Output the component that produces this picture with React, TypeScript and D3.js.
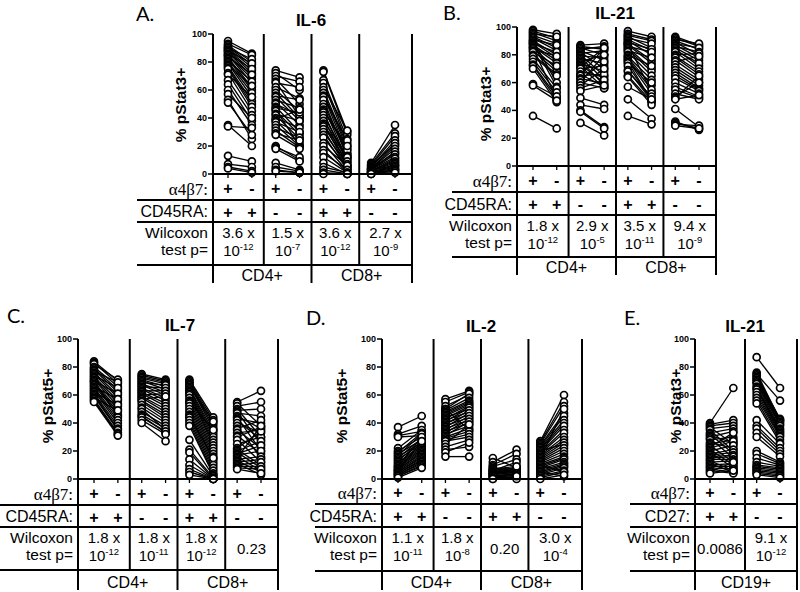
import React from 'react';
import * as d3 from 'd3';

type Pair = [number, number];

// ---------- Panel A: IL-6, % pStat3+ ----------
const A_CD4_RApos: Pair[] = [[95,86],[93,85],[92,80],[91,78],[90,82],[90,76],[89,74],[88,79],[88,72],[87,70],[86,75],[85,68],[85,65],[84,71],[83,62],[82,60],[81,66],[80,58],[79,55],[78,63],[77,52],[76,50],[75,48],[72,45],[71,55],[67,42],[64,38],[60,35],[57,40],[53,25],[51,28],[35,20],[34,33],[13,9],[7,5],[5,2],[4,1]];
const A_CD4_RAneg: Pair[] = [[74,69],[72,60],[70,66],[68,50],[66,41],[65,62],[62,54],[60,45],[58,40],[56,53],[55,38],[53,47],[51,35],[50,42],[48,30],[47,44],[46,20],[45,28],[43,38],[42,25],[40,33],[39,46],[38,22],[37,30],[35,20],[33,26],[31,19],[29,24],[28,18],[20,10],[19,12],[18,9],[8,3],[5,2],[3,1],[2,1]];
const A_CD8_RApos: Pair[] = [[74,30],[73,28],[67,25],[65,22],[62,31],[60,20],[58,18],[56,15],[55,24],[53,12],[50,14],[48,10],[46,17],[45,20],[44,8],[42,11],[40,6],[38,13],[36,5],[35,12],[34,9],[32,4],[30,7],[28,3],[26,5],[22,2],[20,6],[17,1],[15,3],[12,1],[8,0],[5,1],[3,0],[1,0],[0,0]];
const A_CD8_RAneg: Pair[] = [[8,35],[7,29],[6,27],[6,21],[5,24],[5,22],[4,20],[4,18],[4,15],[3,16],[3,14],[3,12],[3,6],[2,10],[2,11],[2,9],[2,8],[1,7],[1,6],[1,5],[1,4],[1,3],[0,3],[0,2],[0,1]];

// ---------- Panel B: IL-21 (T cells), % pStat3+ ----------
const B_CD4_RApos: Pair[] = [[98,95],[97,92],[96,90],[95,93],[94,88],[93,85],[92,83],[91,87],[90,80],[90,60],[89,78],[88,82],[88,57],[87,76],[86,74],[85,70],[85,48],[84,79],[83,68],[82,72],[80,66],[79,65],[77,56],[75,53],[73,50],[72,48],[70,46],[59,50],[58,47],[36,27]];
const B_CD4_RAneg: Pair[] = [[87,88],[86,84],[85,80],[84,86],[83,76],[82,70],[81,83],[80,65],[79,78],[78,62],[77,74],[76,58],[75,80],[74,68],[73,60],[72,56],[71,85],[70,72],[68,64],[66,57],[65,66],[65,85],[63,59],[62,75],[60,56],[60,80],[58,70],[56,62],[54,58],[49,44],[44,41],[40,28],[39,27],[31,22]];
const B_CD8_RApos: Pair[] = [[97,93],[95,91],[94,90],[93,85],[92,88],[91,83],[90,80],[89,84],[88,76],[88,53],[87,74],[86,82],[85,70],[84,68],[83,78],[82,65],[80,72],[79,62],[78,58],[77,55],[76,52],[75,47],[74,60],[72,48],[69,47],[68,50],[65,46],[64,44],[57,48],[48,34],[36,30]];
const B_CD8_RAneg: Pair[] = [[93,87],[92,86],[91,88],[90,84],[89,80],[88,85],[87,78],[86,82],[85,76],[84,72],[83,74],[82,70],[80,81],[79,68],[78,66],[76,64],[75,79],[73,62],[71,60],[69,58],[67,56],[65,55],[63,54],[60,52],[57,50],[55,49],[52,48],[50,60],[49,65],[48,51],[41,28],[32,26],[31,27],[30,29],[29,27]];

// ---------- Panel C: IL-7, % pStat5+ ----------
const C_CD4_RApos: Pair[] = [[84,70],[83,68],[82,71],[80,66],[79,64],[78,62],[77,69],[76,60],[75,58],[74,65],[73,56],[72,54],[71,52],[70,61],[70,45],[69,50],[68,48],[67,46],[66,57],[65,44],[64,42],[63,40],[62,53],[61,38],[60,36],[59,35],[58,49],[57,33],[56,32],[55,31]];
const C_CD4_RAneg: Pair[] = [[75,71],[74,70],[73,69],[72,68],[71,66],[70,64],[69,67],[68,62],[67,60],[66,65],[65,58],[64,56],[63,63],[62,54],[61,52],[60,61],[59,50],[58,48],[57,59],[56,46],[55,44],[53,42],[51,40],[50,35],[48,38],[46,36],[45,33],[44,34],[42,32],[40,27]];
const C_CD8_RApos: Pair[] = [[71,44],[70,42],[69,40],[68,38],[67,36],[66,41],[65,34],[64,32],[63,30],[62,28],[61,26],[60,24],[58,22],[56,20],[55,35],[54,18],[52,16],[50,14],[48,12],[46,10],[45,15],[44,8],[42,6],[40,4],[38,3],[28,2],[21,1],[19,0],[14,0],[10,0],[7,0],[5,0],[3,0]];
const C_CD8_RAneg: Pair[] = [[55,63],[54,38],[52,55],[50,30],[49,50],[48,25],[47,45],[45,36],[44,20],[43,40],[42,28],[40,33],[38,15],[36,42],[35,22],[33,35],[31,18],[30,37],[28,12],[25,30],[22,34],[21,10],[20,27],[19,8],[18,24],[17,20],[16,6],[15,38],[14,16],[13,5],[12,14],[11,3],[10,12],[9,9],[8,7],[7,4]];

// ---------- Panel D: IL-2, % pStat5+ ----------
const D_CD4_RApos: Pair[] = [[37,45],[32,38],[31,34],[30,31],[22,35],[20,30],[19,33],[18,28],[17,32],[16,26],[15,29],[14,25],[13,27],[12,24],[11,23],[10,22],[9,21],[9,30],[8,20],[7,19],[7,18],[6,17],[6,27],[5,16],[5,15],[4,14],[4,13],[3,12],[3,11],[2,10],[2,9],[1,8]];
const D_CD4_RAneg: Pair[] = [[57,63],[55,62],[52,60],[50,61],[50,35],[49,58],[48,56],[47,55],[46,54],[45,53],[44,50],[43,52],[42,48],[41,51],[40,46],[39,49],[38,44],[37,47],[36,42],[35,45],[34,40],[33,43],[32,38],[31,41],[30,36],[29,34],[28,32],[27,30],[25,39],[23,28],[21,23],[19,26],[16,16]];
const D_CD8_RApos: Pair[] = [[15,8],[12,21],[10,18],[9,14],[8,7],[7,6],[7,9],[6,5],[6,12],[5,4],[5,8],[5,7],[4,3],[4,6],[3,2],[3,5],[3,9],[2,1],[2,4],[1,1],[1,3],[0,0],[0,2]];
const D_CD8_RAneg: Pair[] = [[27,60],[26,55],[25,52],[24,47],[23,45],[22,42],[21,40],[20,38],[20,25],[19,35],[18,33],[17,30],[16,28],[15,26],[15,50],[14,24],[13,22],[12,20],[11,18],[10,16],[10,5],[9,15],[8,14],[7,12],[6,11],[5,10],[5,2],[4,9],[3,8],[2,6],[1,5],[0,3]];

// ---------- Panel E: IL-21 (B cells), % pStat3+ ----------
const E_CD19_CD27pos: Pair[] = [[40,65],[39,42],[38,40],[37,25],[36,38],[35,20],[33,36],[32,18],[31,26],[30,34],[29,15],[28,30],[26,22],[25,28],[24,12],[23,33],[22,27],[21,10],[20,24],[19,8],[18,21],[17,19],[16,17],[15,16],[14,14],[13,6],[12,13],[11,5],[10,11],[9,9],[8,7],[7,5],[6,4],[5,12],[4,6]];
const E_CD19_CD27neg: Pair[] = [[87,65],[76,42],[75,56],[74,43],[73,42],[72,41],[71,40],[70,39],[69,38],[68,36],[66,35],[65,34],[64,33],[62,32],[60,31],[58,30],[56,28],[54,26],[42,25],[38,22],[36,20],[33,18],[30,16],[20,12],[18,11],[15,10],[12,9],[10,8],[9,7],[8,6],[7,5],[6,4],[5,3],[4,2],[3,1]];

// ---------- Table texts ----------
const yTicks = [0, 20, 40, 60, 80, 100];
const a4b7Signs4 = ['+', '-', '+', '-', '+', '-', '+', '-'];
const raSigns4 = ['+', '+', '-', '-', '+', '+', '-', '-'];
const a4b7Signs2 = ['+', '-', '+', '-'];
const cd27Signs2 = ['+', '+', '-', '-'];

type PVal = { from: number; to: number; main?: string; exp?: string; single?: string };
type Cell = { from: number; to: number; label: string };

const pA: PVal[] = [
  { from: 0, to: 0, main: '3.6 x', exp: '-12' },
  { from: 1, to: 1, main: '1.5 x', exp: '-7' },
  { from: 2, to: 2, main: '3.6 x', exp: '-12' },
  { from: 3, to: 3, main: '2.7 x', exp: '-9' },
];
const pB: PVal[] = [
  { from: 0, to: 0, main: '1.8 x', exp: '-12' },
  { from: 1, to: 1, main: '2.9 x', exp: '-5' },
  { from: 2, to: 2, main: '3.5 x', exp: '-11' },
  { from: 3, to: 3, main: '9.4 x', exp: '-9' },
];
const pC: PVal[] = [
  { from: 0, to: 0, main: '1.8 x', exp: '-12' },
  { from: 1, to: 1, main: '1.8 x', exp: '-11' },
  { from: 2, to: 2, main: '1.8 x', exp: '-12' },
  { from: 3, to: 3, single: '0.23' },
];
const pD: PVal[] = [
  { from: 0, to: 0, main: '1.1 x', exp: '-11' },
  { from: 1, to: 1, main: '1.8 x', exp: '-8' },
  { from: 2, to: 2, single: '0.20' },
  { from: 3, to: 3, main: '3.0 x', exp: '-4' },
];
const pE: PVal[] = [
  { from: 0, to: 0, single: '0.0086' },
  { from: 1, to: 1, main: '9.1 x', exp: '-12' },
];
const cellsT: Cell[] = [
  { from: 0, to: 1, label: 'CD4+' },
  { from: 2, to: 3, label: 'CD8+' },
];
const cellsB: Cell[] = [{ from: 0, to: 1, label: 'CD19+' }];

interface PanelCfg {
  letter: string; letterX: number; letterY: number;
  title: string; titleX: number; titleY: number;
  yLabel: string; yLabelX: number; yLabelY: number;
  axisX: number; col0: number; colN: number; right: number;
  yTop: number; yBot: number;
  rows: [number, number, number]; bottom: number; tableLeft: number;
  row1Label: string; row2Label: string;
  signs1: string[]; signs2: string[];
  groups: Pair[][];
  pvals: PVal[];
  cells: Cell[];
}

const SANS = 'Liberation Sans, Arial, Helvetica, sans-serif';
const SERIF = 'Liberation Serif, Times New Roman, serif';

const panels: PanelCfg[] = [
  {
    letter: 'A.', letterX: 136, letterY: 21, title: 'IL-6', titleX: 311, titleY: 26,
    yLabel: '% pStat3+', yLabelX: 180, yLabelY: 105,
    axisX: 213, col0: 228, colN: 395, right: 412, yTop: 34, yBot: 174,
    rows: [200, 222, 265], bottom: 283, tableLeft: 137,
    row1Label: 'α4β7:', row2Label: 'CD45RA:', signs1: a4b7Signs4, signs2: raSigns4,
    groups: [A_CD4_RApos, A_CD4_RAneg, A_CD8_RApos, A_CD8_RAneg], pvals: pA, cells: cellsT,
  },
  {
    letter: 'B.', letterX: 443, letterY: 20, title: 'IL-21', titleX: 615, titleY: 19,
    yLabel: '% pStat3+', yLabelX: 485, yLabelY: 104,
    axisX: 517, col0: 533, colN: 699, right: 716, yTop: 27, yBot: 166,
    rows: [192, 215, 257], bottom: 275, tableLeft: 452,
    row1Label: 'α4β7:', row2Label: 'CD45RA:', signs1: a4b7Signs4, signs2: raSigns4,
    groups: [B_CD4_RApos, B_CD4_RAneg, B_CD8_RApos, B_CD8_RAneg], pvals: pB, cells: cellsT,
  },
  {
    letter: 'C.', letterX: 7, letterY: 323, title: 'IL-7', titleX: 180, titleY: 331,
    yLabel: '% pStat5+', yLabelX: 47, yLabelY: 406,
    axisX: 78, col0: 94, colN: 261, right: 278, yTop: 339, yBot: 479,
    rows: [505, 527, 570], bottom: 590, tableLeft: 0,
    row1Label: 'α4β7:', row2Label: 'CD45RA:', signs1: a4b7Signs4, signs2: raSigns4,
    groups: [C_CD4_RApos, C_CD4_RAneg, C_CD8_RApos, C_CD8_RAneg], pvals: pC, cells: cellsT,
  },
  {
    letter: 'D.', letterX: 306, letterY: 325, title: 'IL-2', titleX: 481, titleY: 332,
    yLabel: '% pStat5+', yLabelX: 341, yLabelY: 406,
    axisX: 382, col0: 398, colN: 564, right: 582, yTop: 339, yBot: 479,
    rows: [504, 527, 571], bottom: 590, tableLeft: 315,
    row1Label: 'α4β7:', row2Label: 'CD45RA:', signs1: a4b7Signs4, signs2: raSigns4,
    groups: [D_CD4_RApos, D_CD4_RAneg, D_CD8_RApos, D_CD8_RAneg], pvals: pD, cells: cellsT,
  },
  {
    letter: 'E.', letterX: 624, letterY: 325, title: 'IL-21', titleX: 745, titleY: 332,
    yLabel: '% pStat3+', yLabelX: 675, yLabelY: 406,
    axisX: 695, col0: 710, colN: 780, right: 797, yTop: 339, yBot: 479,
    rows: [504, 527, 571], bottom: 590, tableLeft: 630,
    row1Label: 'α4β7:', row2Label: 'CD27:', signs1: a4b7Signs2, signs2: cd27Signs2,
    groups: [E_CD19_CD27pos, E_CD19_CD27neg], pvals: pE, cells: cellsB,
  },
];

function Panel({ p }: { p: PanelCfg }) {
  const nCols = p.groups.length * 2;
  const x = d3.scaleLinear().domain([0, nCols - 1]).range([p.col0, p.colN]);
  const y = d3.scaleLinear().domain([0, 100]).range([p.yBot, p.yTop]);
  const nG = p.groups.length;
  const gLeft = (g: number) => (g === 0 ? p.axisX : (x(2 * g - 1) + x(2 * g)) / 2);
  const gRight = (g: number) => (g === nG - 1 ? p.right : (x(2 * g + 1) + x(2 * g + 2)) / 2);
  const cellBoundaries = new Set(p.cells.map((c) => c.from));
  const [r1, r2, r3] = p.rows;
  const lw = 2;
  const line = d3.line<[number, number]>().x((d) => d[0]).y((d) => d[1]);

  return (
    <g>
      <text x={p.letterX} y={p.letterY} fontFamily="Lato, Open Sans, sans-serif" fontSize={20}>{p.letter}</text>
      <text x={p.titleX} y={p.titleY} textAnchor="middle" fontFamily={SANS} fontWeight="bold" fontSize={17}>{p.title}</text>
      <text
        transform={`translate(${p.yLabelX},${p.yLabelY}) rotate(-90)`}
        textAnchor="middle" dominantBaseline="central"
        fontFamily={SANS} fontWeight="bold" fontSize={15.5}
      >{p.yLabel}</text>

      {/* y ticks */}
      {yTicks.map((t) => (
        <g key={t}>
          <line x1={p.axisX - 5} x2={p.axisX} y1={y(t)} y2={y(t)} stroke="#000" strokeWidth={1.5} />
          <text x={p.axisX - 6} y={y(t)} textAnchor="end" dominantBaseline="central" fontFamily={SANS} fontWeight="bold" fontSize={9}>{t}</text>
        </g>
      ))}
      {/* x ticks */}
      {d3.range(nCols).map((i) => (
        <line key={i} x1={x(i)} x2={x(i)} y1={p.yBot} y2={p.yBot + 4} stroke="#000" strokeWidth={1.3} />
      ))}

      {/* data */}
      {p.groups.map((grp, g) => (
        <g key={'l' + g}>
          {grp.map((d, i) => (
            <path key={i} d={line([[x(2 * g), y(d[0])], [x(2 * g + 1), y(d[1])]]) || ''} stroke="#000" strokeWidth={1.35} fill="none" />
          ))}
        </g>
      ))}
      {p.groups.map((grp, g) => (
        <g key={'c' + g}>
          {grp.map((d, i) => (
            <g key={i}>
              <circle cx={x(2 * g)} cy={y(d[0])} r={3.5} fill="#fff" stroke="#000" strokeWidth={1.7} />
              <circle cx={x(2 * g + 1)} cy={y(d[1])} r={3.5} fill="#fff" stroke="#000" strokeWidth={1.7} />
            </g>
          ))}
        </g>
      ))}

      {/* frame lines */}
      <line x1={p.axisX} x2={p.axisX} y1={p.yTop} y2={p.bottom} stroke="#000" strokeWidth={lw} />
      <line x1={p.right} x2={p.right} y1={p.yTop} y2={p.bottom} stroke="#000" strokeWidth={lw} />
      <line x1={p.axisX} x2={p.right} y1={p.yBot} y2={p.yBot} stroke="#000" strokeWidth={lw} />
      {p.rows.map((ry) => (
        <line key={ry} x1={p.tableLeft} x2={p.right} y1={ry} y2={ry} stroke="#000" strokeWidth={lw} />
      ))}
      {d3.range(1, nG).map((g) => (
        <line key={g} x1={gLeft(g)} x2={gLeft(g)} y1={p.yTop} y2={cellBoundaries.has(g) ? p.bottom : r3} stroke="#000" strokeWidth={lw} />
      ))}

      {/* row labels */}
      <text x={p.axisX - 5} y={r1 - 5} textAnchor="end" fontFamily={SERIF} fontSize={17}>{p.row1Label}</text>
      <text x={p.axisX - 5} y={r2 - 5} textAnchor="end" fontFamily={SANS} fontSize={16}>{p.row2Label}</text>
      <text x={p.axisX - 5} y={r2 + 16} textAnchor="end" fontFamily={SANS} fontSize={15.5}>Wilcoxon</text>
      <text x={p.axisX - 5} y={r2 + 33} textAnchor="end" fontFamily={SANS} fontSize={15.5}>test p=</text>

      {/* signs */}
      {p.signs1.map((s, i) => (
        <text key={'s1' + i} x={x(i)} y={(p.yBot + r1) / 2 + 1} textAnchor="middle" dominantBaseline="central" fontFamily={SANS} fontWeight="bold" fontSize={16}>{s}</text>
      ))}
      {p.signs2.map((s, i) => (
        <text key={'s2' + i} x={x(i)} y={(r1 + r2) / 2 + 1} textAnchor="middle" dominantBaseline="central" fontFamily={SANS} fontWeight="bold" fontSize={16}>{s}</text>
      ))}

      {/* p values */}
      {p.pvals.map((pv, i) => {
        const cx = (gLeft(pv.from) + gRight(pv.to)) / 2;
        if (pv.single) {
          return <text key={'p' + i} x={cx} y={(r2 + r3) / 2 + 5} textAnchor="middle" fontFamily={SANS} fontSize={15}>{pv.single}</text>;
        }
        return (
          <g key={'p' + i}>
            <text x={cx} y={r2 + 16} textAnchor="middle" fontFamily={SANS} fontSize={15}>{pv.main}</text>
            <text x={cx} y={r2 + 34} textAnchor="middle" fontFamily={SANS} fontSize={15}>
              <tspan>10</tspan>
              <tspan dy={-6} fontSize={9.5}>{pv.exp}</tspan>
            </text>
          </g>
        );
      })}

      {/* cell types */}
      {p.cells.map((c, i) => (
        <text key={'c' + i} x={(gLeft(c.from) + gRight(c.to)) / 2} y={p.bottom - 2} textAnchor="middle" fontFamily={SANS} fontSize={16}>{c.label}</text>
      ))}
    </g>
  );
}

export default function App() {
  return (
    <svg width={800} height={592} style={{ position: 'absolute', left: 0, top: 0, background: '#fff' }}>
      <rect width={800} height={592} fill="#fff" />
      {panels.map((p) => (
        <Panel key={p.letter} p={p} />
      ))}
    </svg>
  );
}
